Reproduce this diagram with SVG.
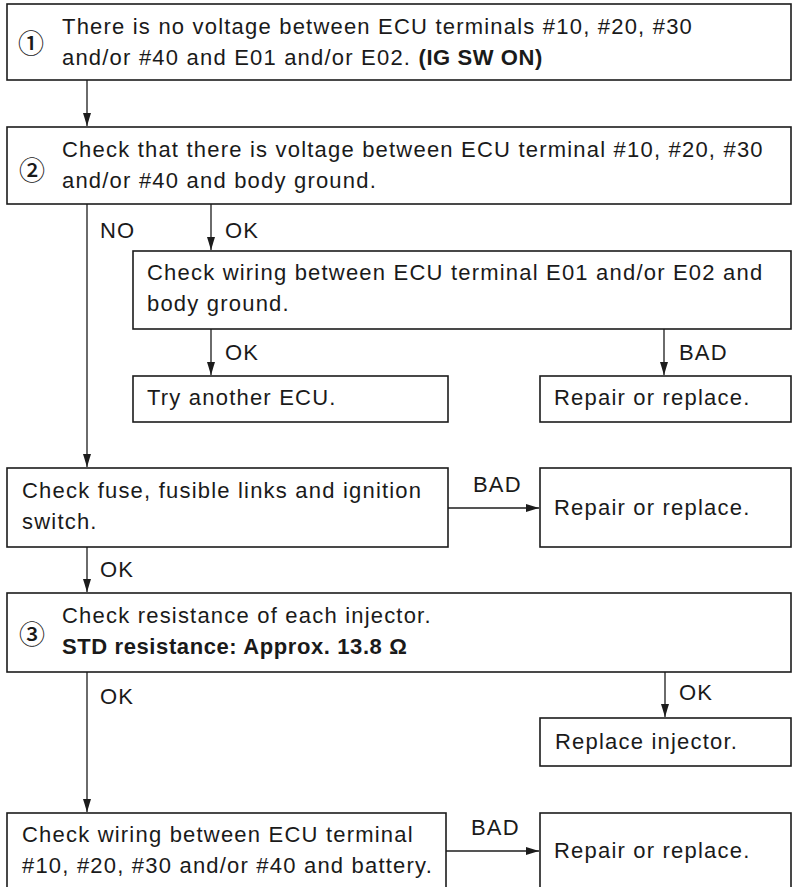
<svg xmlns="http://www.w3.org/2000/svg" width="792" height="887" viewBox="0 0 792 887">
<style>
.box{fill:#fff;stroke:#1c1c1c;stroke-width:1.6}
.t{font-family:"Liberation Sans",Arial,sans-serif;font-size:22px;letter-spacing:1.2px;fill:#1a1a1a}
.b{font-weight:bold;letter-spacing:0.6px}
.num{font-family:"Noto Sans CJK JP","DejaVu Sans",sans-serif;font-size:26px;font-weight:500;fill:#1a1a1a}
.c{fill:none;stroke:#1c1c1c;stroke-width:1.3}
</style>
<defs>
<marker id="arr" markerUnits="userSpaceOnUse" markerWidth="14" markerHeight="8" refX="13" refY="4" orient="auto">
<path d="M0,0 L13,4 L0,8 z" fill="#1c1c1c"/>
</marker>
</defs>
<rect width="792" height="887" fill="#fff"/>
<g id="connectors">
<path class="c" d="M87 80 V126" marker-end="url(#arr)"/>
<path class="c" d="M87 204 V467" marker-end="url(#arr)"/>
<path class="c" d="M211 204 V250" marker-end="url(#arr)"/>
<path class="c" d="M211 329 V375" marker-end="url(#arr)"/>
<path class="c" d="M664 329 V375" marker-end="url(#arr)"/>
<path class="c" d="M448 508 H539" marker-end="url(#arr)"/>
<path class="c" d="M87 547 V592" marker-end="url(#arr)"/>
<path class="c" d="M87 672 V812" marker-end="url(#arr)"/>
<path class="c" d="M665 672 V717" marker-end="url(#arr)"/>
<path class="c" d="M446 851 H539" marker-end="url(#arr)"/>
<text class="t" x="100" y="238">NO</text>
<text class="t" x="225" y="238">OK</text>
<text class="t" x="225" y="360">OK</text>
<text class="t" x="679" y="360">BAD</text>
<text class="t" x="473" y="492">BAD</text>
<text class="t" x="100" y="577">OK</text>
<text class="t" x="100" y="704">OK</text>
<text class="t" x="679" y="700">OK</text>
<text class="t" x="471" y="835">BAD</text>
</g>
<g id="n1">
<rect class="box" x="7" y="4" width="784" height="76"/>
<text class="num" x="18" y="53">①</text>
<text class="t" x="62" y="34">There is no voltage between ECU terminals #10, #20, #30</text>
<text class="t" x="62" y="65">and/or #40 and E01 and/or E02. <tspan class="b">(IG SW ON)</tspan></text>
</g>
<g id="n2">
<rect class="box" x="7" y="127" width="784" height="77"/>
<text class="num" x="19" y="180">②</text>
<text class="t" x="62" y="157">Check that there is voltage between ECU terminal #10, #20, #30</text>
<text class="t" x="62" y="188">and/or #40 and body ground.</text>
</g>
<g id="n3">
<rect class="box" x="133" y="251" width="658" height="78"/>
<text class="t" x="147" y="280">Check wiring between ECU terminal E01 and/or E02 and</text>
<text class="t" x="147" y="311">body ground.</text>
</g>
<g id="n4">
<rect class="box" x="133" y="376" width="315" height="46"/>
<text class="t" x="147" y="405">Try another ECU.</text>
</g>
<g id="n5">
<rect class="box" x="540" y="376" width="251" height="46"/>
<text class="t" x="554" y="405">Repair or replace.</text>
</g>
<g id="n6">
<rect class="box" x="7" y="468" width="441" height="79"/>
<text class="t" x="22" y="498">Check fuse, fusible links and ignition</text>
<text class="t" x="22" y="529">switch.</text>
</g>
<g id="n7">
<rect class="box" x="540" y="468" width="251" height="79"/>
<text class="t" x="554" y="515">Repair or replace.</text>
</g>
<g id="n8">
<rect class="box" x="7" y="593" width="784" height="79"/>
<text class="num" x="19" y="644">③</text>
<text class="t" x="62" y="623">Check resistance of each injector.</text>
<text class="t b" x="62" y="654">STD resistance: Approx. 13.8 Ω</text>
</g>
<g id="n9">
<rect class="box" x="540" y="718" width="251" height="48"/>
<text class="t" x="555" y="749">Replace injector.</text>
</g>
<g id="n10">
<rect class="box" x="7" y="813" width="439" height="90"/>
<text class="t" x="22" y="842">Check wiring between ECU terminal</text>
<text class="t" x="22" y="873">#10, #20, #30 and/or #40 and battery.</text>
</g>
<g id="n11">
<rect class="box" x="540" y="813" width="251" height="90"/>
<text class="t" x="554" y="858">Repair or replace.</text>
</g>
</svg>
